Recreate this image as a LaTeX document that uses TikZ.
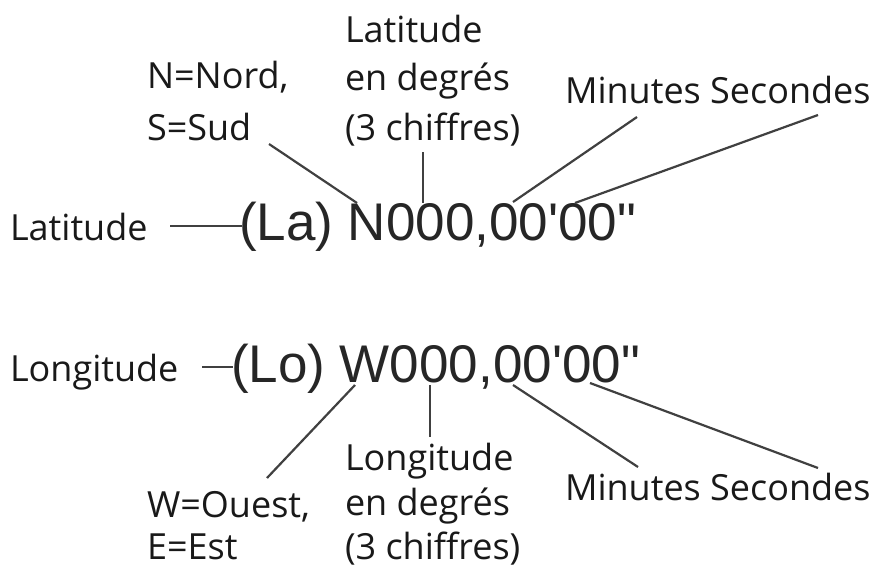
\documentclass[tikz,border=0pt]{standalone}
\usepackage{fontspec}
\setmainfont{Open Sans}
\newfontfamily\codefont{Liberation Sans}[Ligatures=TeXOff]
\begin{document}
\begin{tikzpicture}[x=1pt,y=-1pt,
  lab/.style={anchor=base west,inner sep=0pt,outer sep=0pt,font=\fontsize{36}{40}\selectfont,text=black!90},
  code/.style={anchor=base west,inner sep=0pt,outer sep=0pt,font=\codefont\fontsize{53}{60}\selectfont,text=black!85},
  conn/.style={draw=black!75,line width=2.2pt}]
\useasboundingbox[fill=white] (0,0) rectangle (884,581);
% --- Latitude ---
\node[lab] (latlab) at (10,240) {Latitude};
\node[code] (latcode) at (239,240) {(La) N000,00'00"};
\node[lab] (nord1) at (147,88) {N=Nord,};
\node[lab] (nord2) at (147,140) {S=Sud};
\node[lab] (latdeg1) at (345,42) {Latitude};
\node[lab] (latdeg2) at (345,90) {en degrés};
\node[lab] (latdeg3) at (345,140) {(3 chiffres)};
\node[lab] (latms) at (565,103) {Minutes Secondes};
\coordinate (a1) at (170,226); \coordinate (a2) at (242,226);
\coordinate (b1) at (269,144); \coordinate (b2) at (357,203);
\coordinate (c1) at (423,152); \coordinate (c2) at (423,203);
\coordinate (d1) at (637,117); \coordinate (d2) at (513,202);
\coordinate (e1) at (818,115); \coordinate (e2) at (575,203);
\draw[conn] (a1) -- (a2);
\draw[conn] (b1) -- (b2);
\draw[conn] (c1) -- (c2);
\draw[conn] (d1) -- (d2);
\draw[conn] (e1) -- (e2);
% --- Longitude ---
\node[lab] (lonlab) at (10,381) {Longitude};
\node[code] (loncode) at (231,382) {(Lo) W000,00'00"};
\node[lab] (ouest1) at (147,517) {W=Ouest,};
\node[lab] (ouest2) at (147,559) {E=Est};
\node[lab] (londeg1) at (345,470) {Longitude};
\node[lab] (londeg2) at (345,515) {en degrés};
\node[lab] (londeg3) at (345,559) {(3 chiffres)};
\node[lab] (lonms) at (565,500) {Minutes Secondes};
\coordinate (f1) at (202,367); \coordinate (f2) at (233,367);
\coordinate (g1) at (355,385); \coordinate (g2) at (267,478);
\coordinate (h1) at (430,385); \coordinate (h2) at (430,437);
\coordinate (i1) at (513,385); \coordinate (i2) at (638,467);
\coordinate (j1) at (590,383); \coordinate (j2) at (818,468);
\draw[conn] (f1) -- (f2);
\draw[conn] (g1) -- (g2);
\draw[conn] (h1) -- (h2);
\draw[conn] (i1) -- (i2);
\draw[conn] (j1) -- (j2);
\end{tikzpicture}
\end{document}
